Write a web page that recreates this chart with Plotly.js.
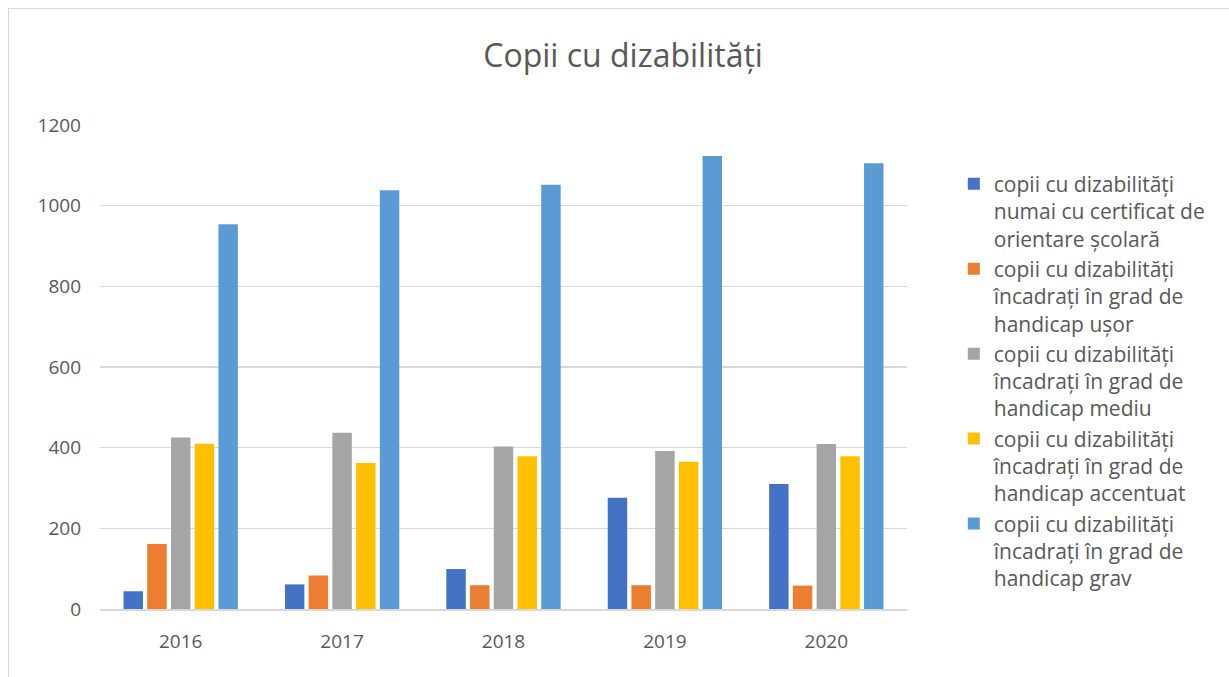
<!DOCTYPE html>
<html><head><meta charset="utf-8">
<script src="https://cdn.plot.ly/plotly-3.0.1.min.js"></script>
<style>body{margin:0;background:#fff}#wrap{position:relative;width:1229px;height:677px;overflow:hidden}
#frame{position:absolute;left:8px;top:8px;width:1240px;height:700px;border:1px solid #d9d9d9;pointer-events:none}
#chart{position:absolute;left:0;top:0;width:1229px;height:677px}</style>
</head><body><div id="wrap"><div id="chart"></div><div id="frame"></div></div>
<script>
const years = ['2016','2017','2018','2019','2020'];
const seriesNames = [
  'copii cu dizabilități<br>numai cu certificat de<br>orientare școlară',
  'copii cu dizabilități<br>încadrați în grad de<br>handicap ușor',
  'copii cu dizabilități<br>încadrați în grad de<br>handicap mediu',
  'copii cu dizabilități<br>încadrați în grad de<br>handicap accentuat',
  'copii cu dizabilități<br>încadrați în grad de<br>handicap grav'
];
const certificatOrientare = [44, 61, 99, 276, 310];
const handicapUsor = [161, 83, 59, 59, 58];
const handicapMediu = [425, 437, 403, 392, 409];
const handicapAccentuat = [410, 362, 379, 365, 379];
const handicapGrav = [954, 1038, 1052, 1123, 1105];
const colors = ['#4472c4', '#ed7d31', '#a5a5a5', '#ffc000', '#5b9bd5'];
const values = [certificatOrientare, handicapUsor, handicapMediu, handicapAccentuat, handicapGrav];

const traces = values.map((v, i) => ({
  type: 'bar', x: years, y: v, name: seriesNames[i],
  marker: {color: colors[i]}, hoverinfo: 'x+y'
}));

const layout = {
  width: 1229, height: 677,
  paper_bgcolor: 'rgba(0,0,0,0)', plot_bgcolor: '#fff',
  margin: {l: 100, r: 322, t: 125, b: 68},
  font: {family: 'Open Sans, sans-serif', color: '#595959'},
  title: {text: 'Copii cu dizabilități', font: {size: 32, color: '#595959'}, x: 0.507, xanchor: 'center', y: 0.918, yanchor: 'middle'},
  barmode: 'group', bargap: 0.265, bargroupgap: 0.18,
  xaxis: {type: 'category', showgrid: false, showline: true, linecolor: '#d9d9d9', linewidth: 1.5,
          tickfont: {size: 19, color: '#595959'}, ticks: '', ticklabelstandoff: 15},
  yaxis: {range: [0, 1200], dtick: 200, showgrid: true, gridcolor: '#d9d9d9', gridwidth: 1.5,
          zeroline: false, showline: false, tickfont: {size: 19, color: '#595959'}, ticklabelstandoff: 18},
  legend: {x: 1.058, xanchor: 'left', y: 0.92, yanchor: 'top', font: {size: 21, color: '#595959'},
           valign: 'top', traceorder: 'normal', bgcolor: 'rgba(0,0,0,0)'},
  showlegend: true
};
Plotly.newPlot('chart', traces, layout, {displayModeBar: false, staticPlot: true});
</script></body></html>
